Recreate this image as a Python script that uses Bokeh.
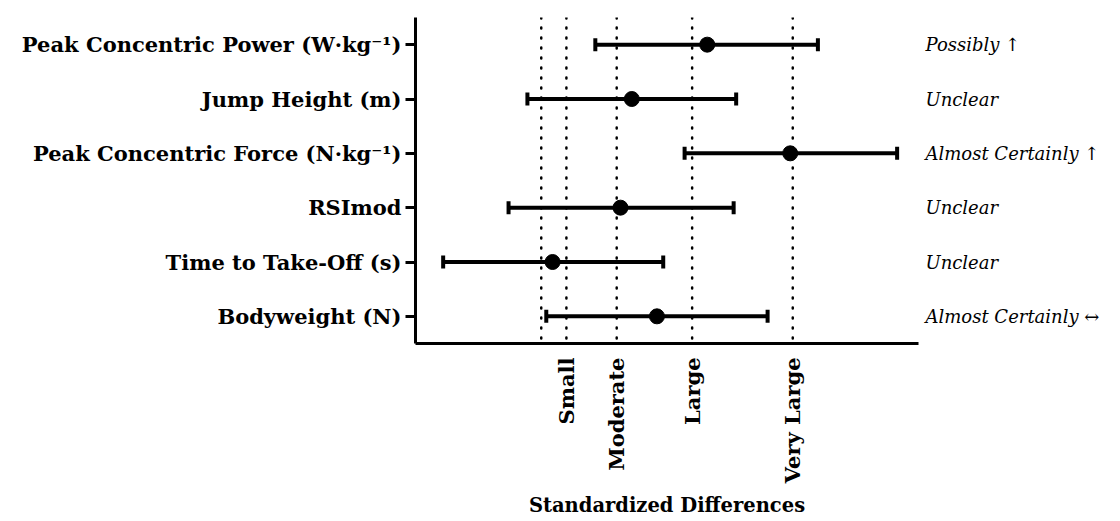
import math
from bokeh.plotting import figure
from bokeh.models import Range1d, FixedTicker, Span, LinearAxis, ColumnDataSource
from bokeh.embed import file_html
from bokeh.resources import INLINE

measures = ["Peak Concentric Power (W·kg⁻¹)", "Jump Height (m)", "Peak Concentric Force (N·kg⁻¹)",
            "RSImod", "Time to Take-Off (s)", "Bodyweight (N)"]
effect = [1.32, 0.72, 1.98, 0.63, 0.09, 0.92]
lower = [0.43, -0.11, 1.14, -0.26, -0.78, 0.04]
upper = [2.20, 1.55, 2.83, 1.53, 0.97, 1.80]
inference = ["Possibly ↑", "Unclear", "Almost Certainly ↑", "Unclear", "Unclear", "Almost Certainly ↔"]
threshold_values = [0.0, 0.2, 0.6, 1.2, 2.0]
threshold_ticks = [0.2, 0.6, 1.2, 2.0]
threshold_labels = ["Small", "Moderate", "Large", "Very Large"]

FONT = "DejaVu Serif"

n = len(measures)
ypos = [n - i - 0.5 for i in range(n)]
src = ColumnDataSource(dict(y=ypos, e=effect, lo=lower, hi=upper))

W, H = 1115, 521
p = figure(width=W, height=H, output_backend="svg", toolbar_location=None,
           x_range=Range1d(-1, 3), y_range=Range1d(0, n),
           min_border_left=415, min_border_right=W - 918, min_border_top=17, min_border_bottom=H - 343)
p.outline_line_color = None
p.grid.visible = False
p.background_fill_color = "white"

for v in threshold_values:
    p.add_layout(Span(location=v, dimension="height", line_color="black",
                      line_width=2.5, line_dash="1 9", line_cap="round"))

p.segment(x0="lo", x1="hi", y0="y", y1="y", source=src, line_color="black", line_width=4)
p.rect(x="lo", y="y", width=4, height=13, width_units="screen", height_units="screen",
       source=src, fill_color="black", line_color=None)
p.rect(x="hi", y="y", width=4, height=13, width_units="screen", height_units="screen",
       source=src, fill_color="black", line_color=None)
p.scatter(x="e", y="y", source=src, size=15, fill_color="black", line_color="black")

# x axis
xa = p.xaxis[0]
xa.ticker = FixedTicker(ticks=threshold_ticks)
xa.major_label_overrides = {t: l for t, l in zip(threshold_ticks, threshold_labels)}
xa.major_label_orientation = math.pi / 2
xa.major_tick_line_color = None
xa.minor_tick_line_color = None
xa.major_tick_out = 0
xa.major_tick_in = 0
xa.major_label_standoff = 14
xa.axis_line_width = 3
xa.axis_line_color = "black"
xa.major_label_text_font = FONT
xa.major_label_text_font_style = "bold"
xa.major_label_text_font_size = "21px"
xa.major_label_text_color = "black"
xa.axis_label = "Standardized Differences"
xa.axis_label_text_font = FONT
xa.axis_label_text_font_style = "bold"
xa.axis_label_text_font_size = "19.5px"
xa.axis_label_text_color = "black"
xa.axis_label_standoff = 8

# y axis
ya = p.yaxis[0]
ya.ticker = FixedTicker(ticks=ypos)
ya.major_label_overrides = {y: m for y, m in zip(ypos, measures)}
ya.minor_tick_line_color = None
ya.axis_line_width = 3
ya.axis_line_color = "black"
ya.major_tick_line_width = 3
ya.major_tick_out = 10
ya.major_tick_in = 0
ya.major_label_standoff = 4
ya.major_label_text_font = FONT
ya.major_label_text_font_style = "bold"
ya.major_label_text_font_size = "21px"
ya.major_label_text_color = "black"

ra = LinearAxis(ticker=FixedTicker(ticks=ypos))
ra.major_label_overrides = {y: t for y, t in zip(ypos, inference)}
ra.axis_line_color = None
ra.major_tick_line_color = None
ra.minor_tick_line_color = None
ra.major_tick_out = 0
ra.major_tick_in = 0
ra.major_label_standoff = 7
ra.major_label_text_font = FONT
ra.major_label_text_font_style = "italic"
ra.major_label_text_font_size = "18px"
ra.major_label_text_color = "black"
p.add_layout(ra, "right")

open("out.html", "w").write(file_html(p, INLINE))
